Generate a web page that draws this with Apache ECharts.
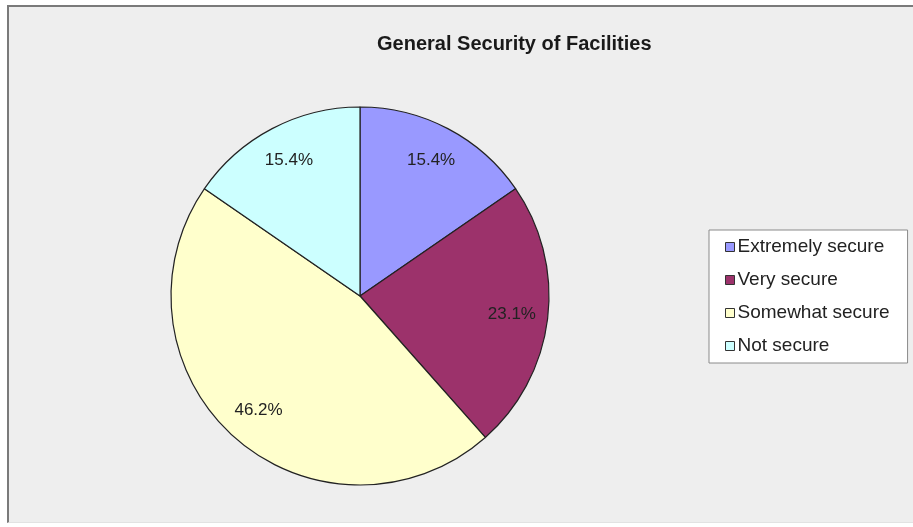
<!DOCTYPE html>
<html>
<head>
<meta charset="utf-8">
<script src="https://cdn.jsdelivr.net/npm/echarts@6/dist/echarts.min.js"></script>
<style>
  html, body { margin: 0; padding: 0; background: #ffffff; }
  #frame {
    position: absolute; left: 7px; top: 5px; width: 920px; height: 515px;
    background: #eeeeee;
    border-top: 2px solid #7a7a7a; border-left: 2px solid #7a7a7a;
    border-bottom: 1px solid #e2e2e2;
  }
  #chart { position: absolute; left: 0; top: 0; width: 913px; height: 527px; }
</style>
</head>
<body>
<div id="frame"></div>
<div id="chart"></div>
<script>
// Survey responses: share of facilities by perceived security level (%)
const categories = ['Extremely secure', 'Very secure', 'Somewhat secure', 'Not secure'];
const shares = [15.4, 23.1, 46.2, 15.4];
const sliceColors = ['#9999ff', '#9c326b', '#ffffcc', '#ccffff'];

const pieData = categories.map((name, i) => ({
  name: name,
  value: shares[i],
  itemStyle: { color: sliceColors[i] }
}));

const center = [360, 296];
const chart = echarts.init(document.getElementById('chart'), null, { renderer: 'canvas' });

chart.setOption({
  animation: false,
  title: {
    text: 'General Security of Facilities',
    left: 377,
    top: 34,
    padding: 0,
    textStyle: { fontFamily: 'Arial, "Liberation Sans", sans-serif', fontSize: 20, fontWeight: 'bold', color: '#1a1a1a' }
  },
  legend: {
    orient: 'vertical',
    left: 709,
    top: 230,
    data: categories,
    icon: 'rect',
    itemWidth: 9,
    itemHeight: 9,
    itemGap: 13,
    padding: [7, 18, 7, 16],
    backgroundColor: '#ffffff',
    borderColor: '#8a8a8a',
    borderWidth: 1,
    borderRadius: 0,
    itemStyle: { borderColor: '#333', borderWidth: 1 },
    textStyle: { fontFamily: 'Arial, "Liberation Sans", sans-serif', fontSize: 19, lineHeight: 20, color: '#222', padding: [0, 0, 0, -2] }
  },
  series: [
    {
      // the slices themselves
      type: 'pie',
      center: center,
      radius: [0, 189],
      startAngle: 90,
      clockwise: true,
      data: pieData,
      label: { show: false },
      labelLine: { show: false },
      itemStyle: { borderColor: '#222', borderWidth: 1.2 },
      emphasis: { disabled: true }
    },
    {
      // transparent companion ring that places the percentage labels further out
      type: 'pie',
      center: center,
      radius: [0, 300],
      startAngle: 90,
      clockwise: true,
      silent: true,
      data: categories.map((name, i) => ({ name: name, value: shares[i] })),
      itemStyle: { color: 'rgba(0,0,0,0)', borderWidth: 0 },
      label: {
        show: true,
        position: 'inside',
        formatter: p => p.value.toFixed(1) + '%',
        fontFamily: 'Arial, "Liberation Sans", sans-serif',
        fontSize: 17,
        color: '#222'
      },
      labelLine: { show: false },
      emphasis: { disabled: true }
    }
  ]
});
</script>
</body>
</html>
